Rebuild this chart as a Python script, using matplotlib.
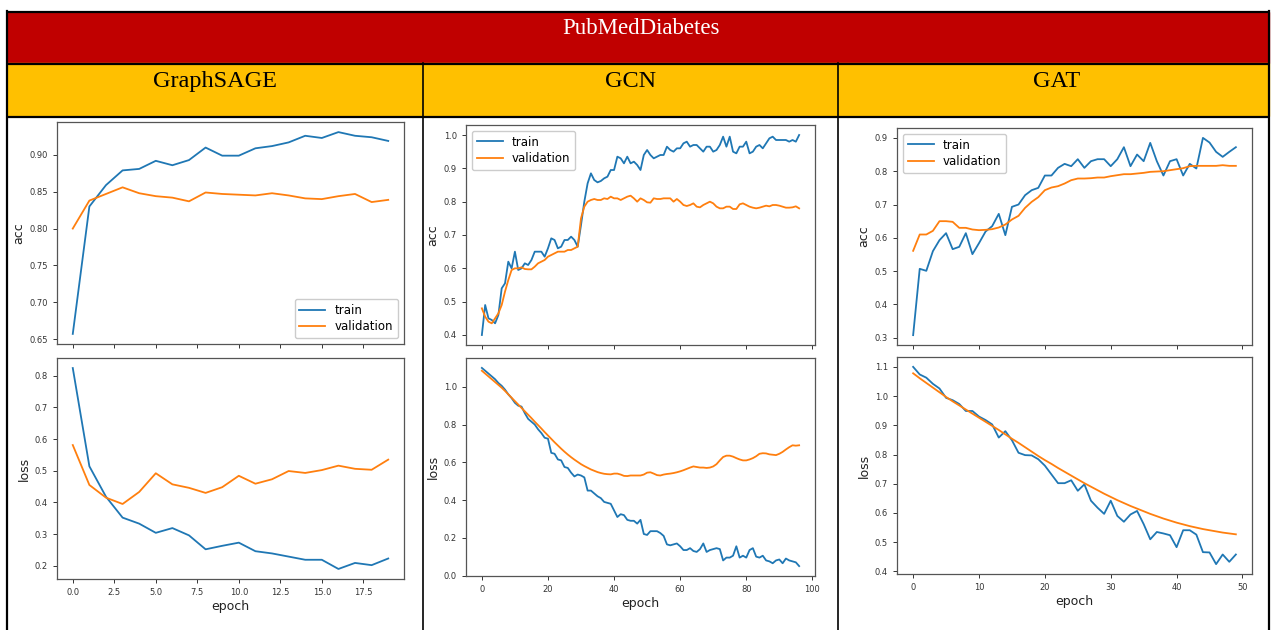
import matplotlib.pyplot as plt
from matplotlib.patches import Rectangle

W, H = 1271, 630

# ---- data ----
sage_epochs = list(range(20))
sage_acc = [0.657, 0.830, 0.859, 0.879, 0.881, 0.892, 0.886, 0.893, 0.910, 0.899,
            0.899, 0.909, 0.912, 0.917, 0.926, 0.923, 0.931, 0.926, 0.924, 0.919]
sage_val_acc = [0.800, 0.838, 0.847, 0.856, 0.848, 0.844, 0.842, 0.837, 0.849, 0.847,
                0.846, 0.845, 0.848, 0.845, 0.841, 0.840, 0.844, 0.847, 0.836, 0.839]
sage_loss = [0.824, 0.514, 0.418, 0.352, 0.333, 0.304, 0.319, 0.296, 0.252, 0.263,
             0.273, 0.246, 0.239, 0.229, 0.219, 0.219, 0.190, 0.209, 0.202, 0.223]
sage_val_loss = [0.581, 0.455, 0.415, 0.395, 0.433, 0.492, 0.457, 0.446, 0.430, 0.448,
                 0.484, 0.459, 0.473, 0.499, 0.493, 0.502, 0.516, 0.506, 0.503, 0.535]

gcn_epochs = list(range(97))
gcn_acc = [0.40, 0.49, 0.45, 0.445, 0.435, 0.46, 0.54, 0.555, 0.62, 0.60,
           0.65, 0.595, 0.60, 0.615, 0.61, 0.625, 0.65, 0.65, 0.65, 0.635,
           0.66, 0.69, 0.685, 0.66, 0.665, 0.685, 0.685, 0.695, 0.685, 0.665,
           0.73, 0.80, 0.855, 0.885, 0.865, 0.858, 0.862, 0.87, 0.875, 0.895,
           0.895, 0.935, 0.93, 0.915, 0.935, 0.915, 0.92, 0.91, 0.895, 0.94,
           0.955, 0.94, 0.93, 0.935, 0.94, 0.94, 0.965, 0.955, 0.95, 0.96,
           0.96, 0.975, 0.98, 0.965, 0.97, 0.97, 0.96, 0.95, 0.965, 0.965,
           0.95, 0.955, 0.97, 0.995, 0.965, 0.995, 0.95, 0.945, 0.965, 0.965,
           0.98, 0.945, 0.95, 0.965, 0.97, 0.96, 0.975, 0.99, 0.995, 0.985,
           0.985, 0.985, 0.985, 0.98, 0.985, 0.98, 1.0]
gcn_val_acc = [0.48, 0.455, 0.44, 0.435, 0.45, 0.465, 0.49, 0.53, 0.565, 0.595,
               0.60, 0.60, 0.603, 0.598, 0.597, 0.597, 0.605, 0.615, 0.62, 0.625,
               0.635, 0.64, 0.645, 0.65, 0.65, 0.65, 0.655, 0.655, 0.66, 0.665,
               0.75, 0.785, 0.80, 0.805, 0.808, 0.805, 0.805, 0.81, 0.808, 0.815,
               0.81, 0.81, 0.805, 0.81, 0.815, 0.818, 0.81, 0.80, 0.81, 0.805,
               0.798, 0.797, 0.81, 0.808, 0.808, 0.81, 0.81, 0.81, 0.80, 0.808,
               0.80, 0.79, 0.787, 0.79, 0.795, 0.785, 0.783, 0.79, 0.795, 0.80,
               0.795, 0.785, 0.78, 0.78, 0.785, 0.785, 0.778, 0.778, 0.792, 0.795,
               0.79, 0.785, 0.782, 0.78, 0.782, 0.785, 0.788, 0.786, 0.79, 0.79,
               0.788, 0.785, 0.782, 0.782, 0.783, 0.786, 0.78]
gcn_loss = [1.10, 1.085, 1.07, 1.055, 1.04, 1.02, 1.005, 0.985, 0.96, 0.94,
            0.915, 0.90, 0.895, 0.86, 0.83, 0.815, 0.80, 0.775, 0.755, 0.73,
            0.725, 0.65, 0.645, 0.615, 0.61, 0.575, 0.57, 0.545, 0.525, 0.535,
            0.53, 0.52, 0.45, 0.45, 0.435, 0.42, 0.41, 0.39, 0.385, 0.38,
            0.345, 0.31, 0.325, 0.32, 0.295, 0.29, 0.29, 0.275, 0.295, 0.22,
            0.215, 0.235, 0.235, 0.235, 0.225, 0.21, 0.165, 0.16, 0.165, 0.17,
            0.155, 0.135, 0.135, 0.145, 0.13, 0.125, 0.14, 0.17, 0.125, 0.135,
            0.14, 0.145, 0.14, 0.08, 0.095, 0.095, 0.105, 0.155, 0.095, 0.105,
            0.095, 0.135, 0.145, 0.10, 0.095, 0.105, 0.08, 0.075, 0.065, 0.08,
            0.085, 0.065, 0.09, 0.08, 0.075, 0.07, 0.05]
gcn_val_loss = [1.085, 1.07, 1.055, 1.04, 1.025, 1.01, 0.995, 0.978, 0.96, 0.942,
                0.924, 0.906, 0.888, 0.87, 0.852, 0.834, 0.815, 0.797, 0.779, 0.76,
                0.742, 0.724, 0.706, 0.689, 0.672, 0.656, 0.641, 0.627, 0.614, 0.602,
                0.59, 0.58, 0.571, 0.562, 0.555, 0.548, 0.543, 0.539, 0.537, 0.536,
                0.54, 0.54, 0.535, 0.528, 0.527, 0.53, 0.53, 0.53, 0.53, 0.535,
                0.545, 0.547, 0.54, 0.532, 0.53, 0.535, 0.538, 0.54, 0.543, 0.547,
                0.552, 0.558, 0.565, 0.572, 0.578, 0.575, 0.572, 0.572, 0.57, 0.572,
                0.578, 0.59, 0.61, 0.628, 0.635, 0.635, 0.63, 0.622, 0.615, 0.61,
                0.61, 0.615, 0.622, 0.632, 0.645, 0.648, 0.647, 0.642, 0.64, 0.638,
                0.645, 0.655, 0.668, 0.68, 0.69, 0.688, 0.69]

gat_epochs = list(range(50))
gat_acc = [0.308, 0.507, 0.501, 0.56, 0.593, 0.614, 0.566, 0.573, 0.614, 0.551,
           0.584, 0.619, 0.635, 0.672, 0.608, 0.693, 0.70, 0.728, 0.743, 0.75,
           0.787, 0.787, 0.81, 0.822, 0.815, 0.836, 0.81, 0.83, 0.836, 0.836,
           0.815, 0.836, 0.872, 0.815, 0.85, 0.83, 0.885, 0.83, 0.787, 0.83,
           0.836, 0.787, 0.822, 0.808, 0.90, 0.886, 0.858, 0.843, 0.858, 0.872]
gat_val_acc = [0.561, 0.61, 0.61, 0.621, 0.65, 0.65, 0.648, 0.63, 0.63, 0.625,
               0.623, 0.624, 0.626, 0.631, 0.64, 0.655, 0.666, 0.69, 0.708, 0.722,
               0.743, 0.751, 0.755, 0.763, 0.773, 0.778, 0.778, 0.779, 0.781, 0.781,
               0.785, 0.788, 0.791, 0.791, 0.793, 0.795, 0.798, 0.799, 0.80, 0.803,
               0.806, 0.809, 0.815, 0.816, 0.816, 0.816, 0.816, 0.818, 0.816, 0.816]
gat_loss = [1.10, 1.074, 1.063, 1.042, 1.026, 0.994, 0.986, 0.973, 0.949, 0.949,
            0.93, 0.918, 0.903, 0.858, 0.88, 0.849, 0.806, 0.798, 0.797, 0.784,
            0.762, 0.732, 0.702, 0.702, 0.712, 0.676, 0.698, 0.642, 0.618, 0.597,
            0.642, 0.590, 0.57, 0.595, 0.607, 0.562, 0.51, 0.535, 0.53, 0.524,
            0.483, 0.541, 0.541, 0.526, 0.466, 0.465, 0.425, 0.458, 0.433, 0.458]
gat_val_loss = [1.078, 1.061, 1.045, 1.029, 1.013, 0.997, 0.982, 0.968, 0.954, 0.940,
                0.926, 0.912, 0.898, 0.884, 0.869, 0.854, 0.840, 0.825, 0.810, 0.795,
                0.781, 0.768, 0.754, 0.741, 0.728, 0.715, 0.702, 0.690, 0.678, 0.666,
                0.655, 0.644, 0.634, 0.624, 0.615, 0.606, 0.597, 0.589, 0.581, 0.574,
                0.567, 0.561, 0.555, 0.550, 0.545, 0.541, 0.537, 0.533, 0.530, 0.527]

dataset_title = 'PubMedDiabetes'
model_names = ['GraphSAGE', 'GCN', 'GAT']


def box(l, t, r, b):
    # pixel box (top-left origin) -> figure fraction
    return [l / W, 1 - b / H, (r - l) / W, (b - t) / H]


fig = plt.figure(figsize=(W / 100, H / 100), dpi=100)

# ---- table background ----
bg = fig.add_axes([0, 0, 1, 1], zorder=0)
bg.set_xlim(0, W)
bg.set_ylim(H, 0)
bg.axis('off')
bg.add_patch(Rectangle((7, 12), 1262, 51, color='#C00000'))
bg.add_patch(Rectangle((7, 63), 1262, 53, color='#FFC000'))
for y in [11.5, 63.5, 116.5]:
    bg.plot([6, 1270], [y, y], color='black', lw=1.6, solid_capstyle='butt')
bg.plot([7, 7], [11, H], color='black', lw=1.6)
bg.plot([1269, 1269], [11, H], color='black', lw=1.6)
for x in [423, 838]:
    bg.plot([x, x], [63, H], color='black', lw=1.2)

bg.text(641, 34, dataset_title, color='white', fontsize=16.5,
        family='Liberation Serif', ha='center', va='baseline')
for cx, name in zip([215, 631, 1057], model_names):
    bg.text(cx, 87, name, color='black', fontsize=17.5,
            family='Liberation Serif', ha='center', va='baseline')

# ---- the six training plots ----
panels = [
    (sage_epochs, sage_acc, sage_val_acc, sage_loss, sage_val_loss,
     (57, 122, 404, 344), (57, 358, 404, 579), 'lower right'),
    (gcn_epochs, gcn_acc, gcn_val_acc, gcn_loss, gcn_val_loss,
     (466, 125, 815, 345), (466, 358, 815, 576), 'upper left'),
    (gat_epochs, gat_acc, gat_val_acc, gat_loss, gat_val_loss,
     (897, 128, 1252, 345), (897, 357, 1252, 574), 'upper left'),
]

for ep, acc, vacc, loss, vloss, top_box, bot_box, loc in panels:
    ax1 = fig.add_axes(box(*top_box))
    ax2 = fig.add_axes(box(*bot_box))
    ax1.plot(ep, acc, color='#1f77b4', lw=1.3, label='train')
    ax1.plot(ep, vacc, color='#ff7f0e', lw=1.3, label='validation')
    ax2.plot(ep, loss, color='#1f77b4', lw=1.3)
    ax2.plot(ep, vloss, color='#ff7f0e', lw=1.3)
    ax2.set_xlim(ax1.get_xlim())
    ax1.tick_params(labelbottom=False)
    ax1.set_ylabel('acc', fontsize=9, color='#222222', labelpad=3)
    ax2.set_ylabel('loss', fontsize=9, color='#222222', labelpad=3)
    ax2.set_xlabel('epoch', fontsize=9, color='#222222', labelpad=2)
    for ax in (ax1, ax2):
        ax.tick_params(labelsize=6, colors='#333333', length=3, width=0.7)
        for sp in ax.spines.values():
            sp.set_color('#555555')
            sp.set_linewidth(0.9)
    leg = ax1.legend(loc=loc, fontsize=8.5, handlelength=2.2, borderpad=0.4,
                     labelspacing=0.3, framealpha=1.0)
    leg.get_frame().set_edgecolor('#cccccc')

fig.savefig('out.png', dpi=100)
